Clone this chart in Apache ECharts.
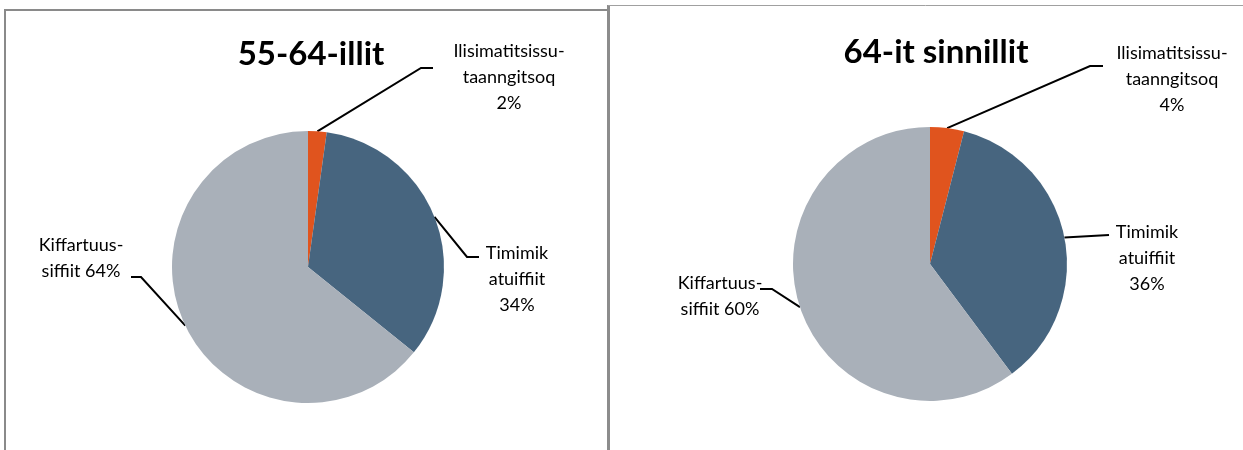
<!DOCTYPE html>
<html>
  <head>
    <meta charset="utf-8" />
    <title>55-64-illit / 64-it sinnillit</title>
    <script src="https://cdn.jsdelivr.net/npm/echarts@6/dist/echarts.min.js"></script>
    <style>
      html, body { margin: 0; padding: 0; background: #fff; }
      #main { width: 1243px; height: 450px; }
    </style>
  </head>
  <body>
    <div id="main"></div>
    <script type="text/javascript">
      // data
      var categories = ['Ilisimatitsissu-\ntaanngitsoq', 'Timimik\natuiffiit', 'Kiffartuus-\nsiffiit'];
      var titles = ['55-64-illit', '64-it sinnillit'];
      var values5564 = [2.2, 33.6, 64.2];
      var values64 = [4.0, 35.8, 60.2];
      var colors = ['#E0541E', '#47657F', '#A9B0B9'];

      // label boxes (center x, top y) and leader line bends, per slice
      var leftLabels = [
        { x: 509, y: 38, pts: [[421, 68], [433, 68]] },
        { x: 517, y: 240, pts: [[467, 257], [479, 257]] },
        { x: 81, y: 232, pts: [[141, 277], [131, 277]] }
      ];
      var rightLabels = [
        { x: 1172, y: 40, pts: [[1090, 66], [1103, 66]] },
        { x: 1147, y: 219, pts: [[1109, 235]] },
        { x: 720, y: 270, pts: [[772, 289], [760, 289]] }
      ];

      function toData(vals) {
        return vals.map(function (v, i) {
          return { name: categories[i], value: v, itemStyle: { color: colors[i] } };
        });
      }

      function fmt(p) {
        var sep = p.dataIndex === 2 ? ' ' : '\n';
        return p.name + sep + Math.round(p.percent) + '%';
      }

      function layoutFor(boxes) {
        return function (p) {
          var b = boxes[p.dataIndex];
          var out = { x: b.x, y: b.y, align: 'center', verticalAlign: 'top' };
          if (p.labelLinePoints && p.labelLinePoints.length) {
            out.labelLinePoints = [p.labelLinePoints[0]].concat(b.pts);
          }
          return out;
        };
      }

      function pieSeries(vals, center, radius, boxes) {
        return {
          type: 'pie',
          center: center,
          radius: radius,
          startAngle: 90,
          clockwise: true,
          data: toData(vals),
          label: {
            show: true,
            position: 'outside',
            formatter: fmt,
            color: '#000',
            fontFamily: 'Lato',
            fontSize: 18,
            lineHeight: 26,
            align: 'center'
          },
          labelLine: {
            show: true,
            length: 20,
            length2: 10,
            lineStyle: { color: '#000', width: 2 }
          },
          labelLayout: layoutFor(boxes),
          itemStyle: { borderWidth: 0 },
          emphasis: { disabled: true }
        };
      }

      var chart = echarts.init(document.getElementById('main'));
      chart.setOption({
        animation: false,
        backgroundColor: '#fff',
        title: [
          {
            text: titles[0], left: 306, top: 33, textAlign: 'center',
            textStyle: { fontFamily: 'Lato', fontWeight: 'bold', fontSize: 33, color: '#000' }
          },
          {
            text: titles[1], left: 931, top: 31, textAlign: 'center',
            textStyle: { fontFamily: 'Lato', fontWeight: 'bold', fontSize: 33, color: '#000' }
          }
        ],
        graphic: [
          { type: 'line', shape: { x1: 5, y1: 9, x2: 5, y2: 450 }, style: { stroke: '#8a8a8a', lineWidth: 2 } },
          { type: 'line', shape: { x1: 4, y1: 10, x2: 608, y2: 10 }, style: { stroke: '#8a8a8a', lineWidth: 2 } },
          { type: 'line', shape: { x1: 608.5, y1: 5, x2: 608.5, y2: 450 }, style: { stroke: '#8c8c8c', lineWidth: 3 } },
          { type: 'line', shape: { x1: 608, y1: 5.5, x2: 1243, y2: 5.5 }, style: { stroke: '#a0a0a0', lineWidth: 1 } }
        ],
        series: [
          pieSeries(values5564, [308, 267], 136, leftLabels),
          pieSeries(values64, [930, 264], 137, rightLabels)
        ]
      });
    </script>
  </body>
</html>
